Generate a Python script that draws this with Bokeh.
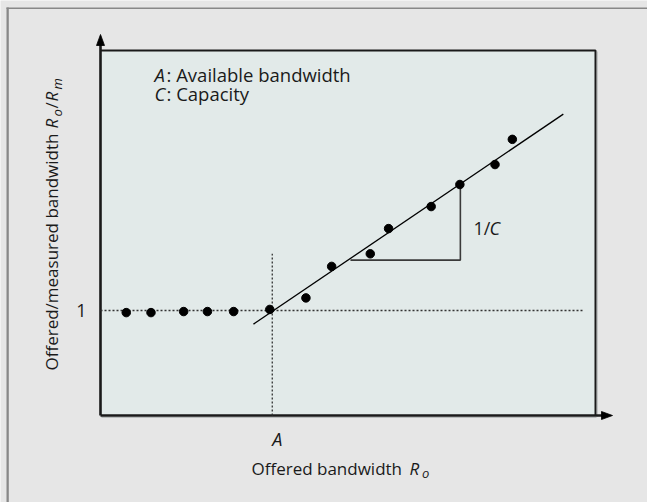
import math
from bokeh.plotting import figure
from bokeh.models import Label, Range1d
from bokeh.embed import file_html
from bokeh.resources import INLINE

# ---- data ----
offered_x = [0.52, 1.02, 1.68, 2.16, 2.69, 3.42, 4.15, 4.67, 5.45, 5.82, 6.68, 7.26, 7.97, 8.32]
ratio_y = [0.98, 0.98, 0.99, 0.99, 0.99, 1.01, 1.12, 1.42, 1.54, 1.78, 1.99, 2.20, 2.39, 2.63]
fit_x = [3.09, 9.35]
fit_y = [0.87, 2.87]
avail_A = 3.47
unit_level = 1.0
slope_x = [5.05, 7.27, 7.27]
slope_y = [1.48, 1.48, 2.20]
y_ticks = [1.0]
y_tick_labels = ["1"]
x_ticks = [3.47]
x_tick_labels = ["A"]
X_MAX = 10.0
Y_MAX = 3.476
hline_end = 9.76
vline_top = 1.54

FONT = "Open Sans"
INK = "#1a1a1a"
FS_LEG = "18.5px"
FS = "18px"
FS_T = "17px"
SUB = "13px"

# page-pixel -> data helpers (used only to place decorations and text)
def X(px):
    return (px - 100.0) / 49.5

def Y(py):
    return (415.0 - py) / 105.0

W, H = 647, 502
p = figure(width=W, height=H,
           x_range=Range1d(X(0), X(W)), y_range=Range1d(Y(H), Y(0)),
           output_backend="svg", toolbar_location=None,
           x_axis_location=None, y_axis_location=None,
           min_border=0, min_border_left=0, min_border_right=0,
           min_border_top=0, min_border_bottom=0,
           background_fill_color="#e6e6e6", border_fill_color="#e6e6e6",
           outline_line_color=None)
p.grid.visible = False

# outer picture border (top / left)
p.quad(left=[X(6)], right=[X(8.3)], bottom=[Y(H)], top=[Y(7)],
       fill_color="#888888", line_color=None)
p.quad(left=[X(6)], right=[X(W)], bottom=[Y(8.5)], top=[Y(7)],
       fill_color="#888888", line_color=None)

# plot box
p.quad(left=[0], right=[X_MAX], bottom=[0], top=[Y_MAX],
       fill_color="#e2eae9", line_color=None)
# subtle shadow on right/bottom
p.line([X(596.8), X(596.8)], [Y(51), Y(416)], line_color="#b9bdbd", line_width=1)
p.line([X(101), X(596)], [Y(417), Y(417)], line_color="#b9bdbd", line_width=1)
# top and right edges
p.line([0, X_MAX, X_MAX], [Y_MAX, Y_MAX, 0], line_color=INK, line_width=2)

# axes (left and bottom) with arrow heads
p.line([0, 0], [0, Y(44)], line_color=INK, line_width=2.6)
p.line([0, X(602)], [0, 0], line_color=INK, line_width=2.6)
p.patch([X(96), X(100), X(104)], [Y(45), Y(34), Y(45)], fill_color="black", line_color="black", line_width=0.8)
p.patch([X(601), X(612), X(601)], [Y(411), Y(415), Y(419)], fill_color="black", line_color="black", line_width=0.8)

# dotted reference lines
p.line([0, hline_end], [unit_level, unit_level], line_color="#333333", line_width=1.3, line_dash="2 2")
p.line([avail_A, avail_A], [0, vline_top], line_color="#333333", line_width=1.3, line_dash="2 2")

# fit line and slope triangle
p.line(fit_x, fit_y, line_color="black", line_width=1.3)
p.line(slope_x, slope_y, line_color="#3a3a3a", line_width=1.6)

# measurements
p.scatter(offered_x, ratio_y, size=8.5, color="black")

def lab(text, x, y, size=FS, style="normal", angle=0.0, align="left"):
    p.add_layout(Label(x=x, y=y, text=text, text_font=FONT, text_font_size=size,
                       text_font_style=style, text_color=INK, angle=angle,
                       text_align=align, text_baseline="middle"))

# tick labels
for t, s in zip(y_ticks, y_tick_labels):
    lab(s, X(86), t, align="right")
for t, s in zip(x_ticks, x_tick_labels):
    lab(s, t, Y(438), style="italic")

# legend text
lab("A", X(154), Y(74), size=FS_LEG, style="italic")
lab(": Available bandwidth", X(166), Y(74), size=FS_LEG)
lab("C", X(154), Y(92.5), size=FS_LEG, style="italic")
lab(": Capacity", X(166), Y(92.5), size=FS_LEG)

# slope label
lab("1/", X(473), Y(227))
lab("C", X(489), Y(227), style="italic")

# x title
lab("Offered bandwidth ", X(251), Y(467.5), size=FS_T)
lab("R", X(409), Y(467.5), size=FS_T, style="italic")
lab("o", X(421.5), Y(472.5), size=SUB, style="italic")

# y title (rotated, reads bottom to top)
a = math.pi / 2
lab("Offered/measured bandwidth ", X(51), Y(370), size=FS_T, angle=a)
lab("R", X(51), Y(128), size=FS_T, style="italic", angle=a)
lab("o", X(56), Y(116), size=SUB, style="italic", angle=a)
lab("/", X(51), Y(108), size=FS_T, angle=a)
lab("R", X(51), Y(101), size=FS_T, style="italic", angle=a)
lab("m", X(56), Y(89), size=SUB, style="italic", angle=a)

open("out.html", "w").write(file_html(p, INLINE))
